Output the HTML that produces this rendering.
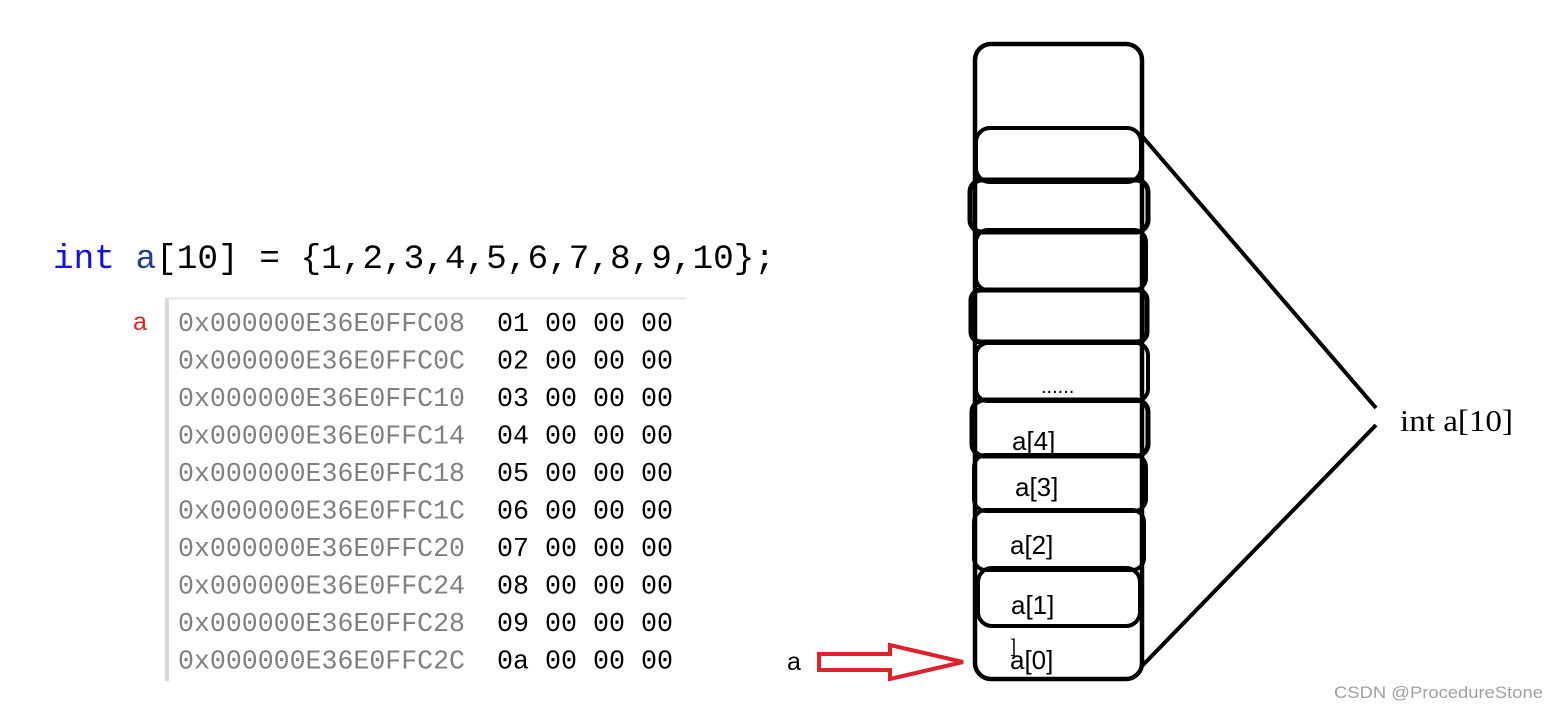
<!DOCTYPE html>
<html><head><meta charset="utf-8"><style>html,body{margin:0;padding:0;background:#fff}svg{display:block}</style></head>
<body>
<svg width="1558" height="708" viewBox="0 0 1558 708" xmlns="http://www.w3.org/2000/svg">
<rect width="1558" height="708" fill="#fff"/>
<text x="53" y="268" font-family="Liberation Mono, monospace" font-size="34" textLength="722" lengthAdjust="spacingAndGlyphs"><tspan fill="#1010e0">int</tspan><tspan fill="#1f3f8f"> a</tspan><tspan fill="#000">[10] = {1,2,3,4,5,6,7,8,9,10};</tspan></text>
<rect x="165" y="298" width="4" height="383" fill="#d8d8e0"/>
<rect x="169" y="297" width="517" height="3" fill="#ececf2"/>
<text x="133" y="330" font-family="Liberation Sans, sans-serif" font-size="25" fill="#e0201c">a</text>
<g font-family="Liberation Mono, monospace" font-size="26.5">
<g fill="#808080">
<text x="178" y="331" textLength="287" lengthAdjust="spacingAndGlyphs">0x000000E36E0FFC08</text>
<text x="178" y="368.5" textLength="287" lengthAdjust="spacingAndGlyphs">0x000000E36E0FFC0C</text>
<text x="178" y="406" textLength="287" lengthAdjust="spacingAndGlyphs">0x000000E36E0FFC10</text>
<text x="178" y="443.5" textLength="287" lengthAdjust="spacingAndGlyphs">0x000000E36E0FFC14</text>
<text x="178" y="481" textLength="287" lengthAdjust="spacingAndGlyphs">0x000000E36E0FFC18</text>
<text x="178" y="518.5" textLength="287" lengthAdjust="spacingAndGlyphs">0x000000E36E0FFC1C</text>
<text x="178" y="556" textLength="287" lengthAdjust="spacingAndGlyphs">0x000000E36E0FFC20</text>
<text x="178" y="593.5" textLength="287" lengthAdjust="spacingAndGlyphs">0x000000E36E0FFC24</text>
<text x="178" y="631" textLength="287" lengthAdjust="spacingAndGlyphs">0x000000E36E0FFC28</text>
<text x="178" y="668.5" textLength="287" lengthAdjust="spacingAndGlyphs">0x000000E36E0FFC2C</text>
</g>
<g fill="#000">
<text x="497" y="331" textLength="176" lengthAdjust="spacingAndGlyphs">01 00 00 00</text>
<text x="497" y="368.5" textLength="176" lengthAdjust="spacingAndGlyphs">02 00 00 00</text>
<text x="497" y="406" textLength="176" lengthAdjust="spacingAndGlyphs">03 00 00 00</text>
<text x="497" y="443.5" textLength="176" lengthAdjust="spacingAndGlyphs">04 00 00 00</text>
<text x="497" y="481" textLength="176" lengthAdjust="spacingAndGlyphs">05 00 00 00</text>
<text x="497" y="518.5" textLength="176" lengthAdjust="spacingAndGlyphs">06 00 00 00</text>
<text x="497" y="556" textLength="176" lengthAdjust="spacingAndGlyphs">07 00 00 00</text>
<text x="497" y="593.5" textLength="176" lengthAdjust="spacingAndGlyphs">08 00 00 00</text>
<text x="497" y="631" textLength="176" lengthAdjust="spacingAndGlyphs">09 00 00 00</text>
<text x="497" y="668.5" textLength="176" lengthAdjust="spacingAndGlyphs">0a 00 00 00</text>
</g>
</g>
<g fill="none" stroke="#000" stroke-width="4">
<rect x="975" y="44" width="167" height="635" rx="16" stroke-width="4.5"/>
<rect x="976" y="128" width="165" height="54" rx="14"/>
<rect x="970" y="180" width="178" height="52" rx="12" stroke-width="5"/>
<rect x="976" y="230" width="170" height="60" rx="12"/>
<rect x="971" y="290" width="176" height="52" rx="10" stroke-width="5"/>
<rect x="976" y="343" width="172" height="58" rx="12"/>
<rect x="972" y="400" width="176" height="56" rx="12" stroke-width="5"/>
<rect x="974" y="455" width="172" height="56" rx="12"/>
<rect x="974" y="510" width="170" height="60" rx="12"/>
<rect x="978" y="568" width="162" height="58" rx="14"/>
<line x1="1142" y1="136" x2="1376" y2="408" stroke-width="4"/>
<line x1="1142" y1="666" x2="1376" y2="425" stroke-width="4"/>
</g>
<text x="1041" y="393" font-family="Liberation Sans, sans-serif" font-size="20" fill="#000">......</text>
<g font-family="Liberation Sans, sans-serif" font-size="26" fill="#000">
<text x="1012" y="450">a[4]</text>
<text x="1015" y="496">a[3]</text>
<text x="1010" y="554">a[2]</text>
<text x="1011" y="614">a[1]</text>
<text x="1010" y="669">a[0]</text>
<text x="1011" y="652" font-size="18">]</text>
</g>
<text x="787" y="670" font-family="Liberation Sans, sans-serif" font-size="25" fill="#000">a</text>
<polygon points="819,654 890,654 890,645 963,662 890,679 890,670 819,670" fill="none" stroke="#e0202a" stroke-width="4" stroke-linejoin="miter"/>
<text x="1400" y="431" font-family="Liberation Serif, serif" font-size="31" fill="#000" textLength="113" lengthAdjust="spacingAndGlyphs">int a[10]</text>
<text x="1334" y="698" font-family="Liberation Sans, sans-serif" font-size="17" fill="#a0a0a0" textLength="209" lengthAdjust="spacingAndGlyphs">CSDN @ProcedureStone</text>
</svg>
</body></html>
